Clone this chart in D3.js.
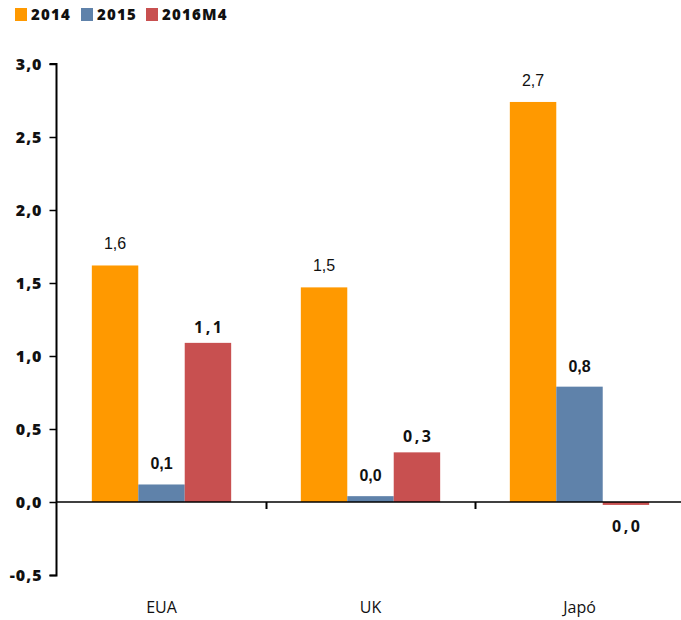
<!DOCTYPE html>
<html>
<head>
<meta charset="utf-8">
<script src="https://cdn.jsdelivr.net/npm/d3@7/dist/d3.min.js"></script>
<style>
  html, body { margin: 0; padding: 0; background: #fff; }
  svg { display: block; }
</style>
</head>
<body>
<svg id="chart" width="681" height="620"></svg>
<script>
// Categories and series
const categories = ["EUA", "UK", "Japó"];
const seriesNames = ["2014", "2015", "2016M4"];
const values2014 = [1.62, 1.47, 2.74];
const values2015 = [0.12, 0.04, 0.79];
const values2016M4 = [1.09, 0.34, -0.02];
const yTicks = [-0.5, 0, 0.5, 1, 1.5, 2, 2.5, 3];
const colors = ["#FF9900", "#5F82AA", "#C85050"];

const series = [values2014, values2015, values2016M4];

const svg = d3.select("#chart");

const y = d3.scaleLinear().domain([-0.5, 3]).range([575, 64]);
const x0 = d3.scaleBand().domain(categories).range([57, 684]).paddingInner(0).paddingOuter(0);
const x1 = d3.scaleBand().domain(seriesNames).range([0, x0.bandwidth()]).paddingInner(0).paddingOuter(0.75);

const fmt = v => {
  const s = d3.format(".1f")(Math.abs(v) < 0.05 ? 0 : v);
  return s.replace(".", ",").replace("−", "-");
};

// Bars
const groups = svg.append("g").selectAll("g")
  .data(categories)
  .join("g")
  .attr("transform", c => `translate(${x0(c)},0)`);

groups.selectAll("rect")
  .data((c, i) => seriesNames.map((s, k) => ({ s, k, v: series[k][i] })))
  .join("rect")
  .attr("x", d => x1(d.s))
  .attr("width", x1.bandwidth())
  .attr("y", d => y(Math.max(0, d.v)))
  .attr("height", d => Math.abs(y(d.v) - y(0)))
  .attr("fill", d => colors[d.k]);

// Value labels
const labelStyle = [
  { weight: "normal", spacing: 0, family: "'Liberation Sans', Arial, sans-serif" },
  { weight: "bold", spacing: 0, family: "'Liberation Sans', Arial, sans-serif" },
  { weight: "bold", spacing: 2.5, family: "'Open Sans', sans-serif" }
];
const labelGap = [16, 15, 10];

groups.selectAll("text.val")
  .data((c, i) => seriesNames.map((s, k) => ({ s, k, v: series[k][i] })))
  .join("text")
  .attr("class", "val")
  .attr("x", d => x1(d.s) + x1.bandwidth() / 2 + labelStyle[d.k].spacing / 2)
  .attr("y", d => d.v >= 0 ? y(d.v) - labelGap[d.k] : y(d.v) + 27)
  .attr("text-anchor", "middle")
  .attr("font-family", d => labelStyle[d.k].family)
  .attr("font-weight", d => labelStyle[d.k].weight)
  .attr("letter-spacing", d => labelStyle[d.k].spacing)
  .attr("font-size", 16)
  .attr("fill", "#111")
  .text(d => fmt(d.v));

// Y axis
const yAxis = d3.axisLeft(y)
  .tickValues(yTicks)
  .tickSize(7)
  .tickPadding(7)
  .tickFormat(v => d3.format(".1f")(v).replace(".", ",").replace("−", "-"));

const gy = svg.append("g")
  .attr("transform", "translate(56.5,0)")
  .call(yAxis);
gy.select(".domain").attr("stroke", "#000").attr("stroke-width", 2).attr("d", "M-7,575.5H0V64H-7");
gy.selectAll(".tick line").attr("stroke", "#000").attr("stroke-width", 1.5);
gy.selectAll(".tick text")
  .attr("font-family", "'Open Sans', sans-serif")
  .attr("font-weight", 800)
  .attr("font-size", 16)
  .attr("letter-spacing", 1)
  .attr("fill", "#111");

// Zero baseline with category separators
const xAxis = d3.axisBottom(x0).tickSize(0).tickPadding(0).tickFormat("");
const gx = svg.append("g")
  .attr("transform", `translate(0,${y(0)})`)
  .call(xAxis);
gx.select(".domain").attr("stroke", "#000").attr("stroke-width", 1.5).attr("d", "M57,0H681");
gx.selectAll(".tick").remove();

svg.append("g").selectAll("line")
  .data(categories.slice(1))
  .join("line")
  .attr("x1", c => Math.round(x0(c)) + 0.5)
  .attr("x2", c => Math.round(x0(c)) + 0.5)
  .attr("y1", y(0))
  .attr("y2", y(0) + 7)
  .attr("stroke", "#000")
  .attr("stroke-width", 2);

// Category labels
svg.append("g").selectAll("text")
  .data(categories)
  .join("text")
  .attr("x", c => x0(c) + x0.bandwidth() / 2)
  .attr("y", 613)
  .attr("text-anchor", "middle")
  .attr("font-family", "'Open Sans', sans-serif")
  .attr("font-size", 16)
  .attr("fill", "#111")
  .text(c => c);

// Legend
const legendX = [15, 81, 146];
const legend = svg.append("g").selectAll("g")
  .data(seriesNames)
  .join("g")
  .attr("transform", (d, i) => `translate(${legendX[i]},8)`);
legend.append("rect")
  .attr("width", 12).attr("height", 13)
  .attr("fill", (d, i) => colors[i]);
legend.append("text")
  .attr("x", 16).attr("y", 12)
  .attr("font-family", "'Open Sans', sans-serif")
  .attr("font-weight", 800)
  .attr("font-size", 15)
  .attr("letter-spacing", 1.2)
  .attr("fill", "#111")
  .text(d => d);
</script>
</body>
</html>
